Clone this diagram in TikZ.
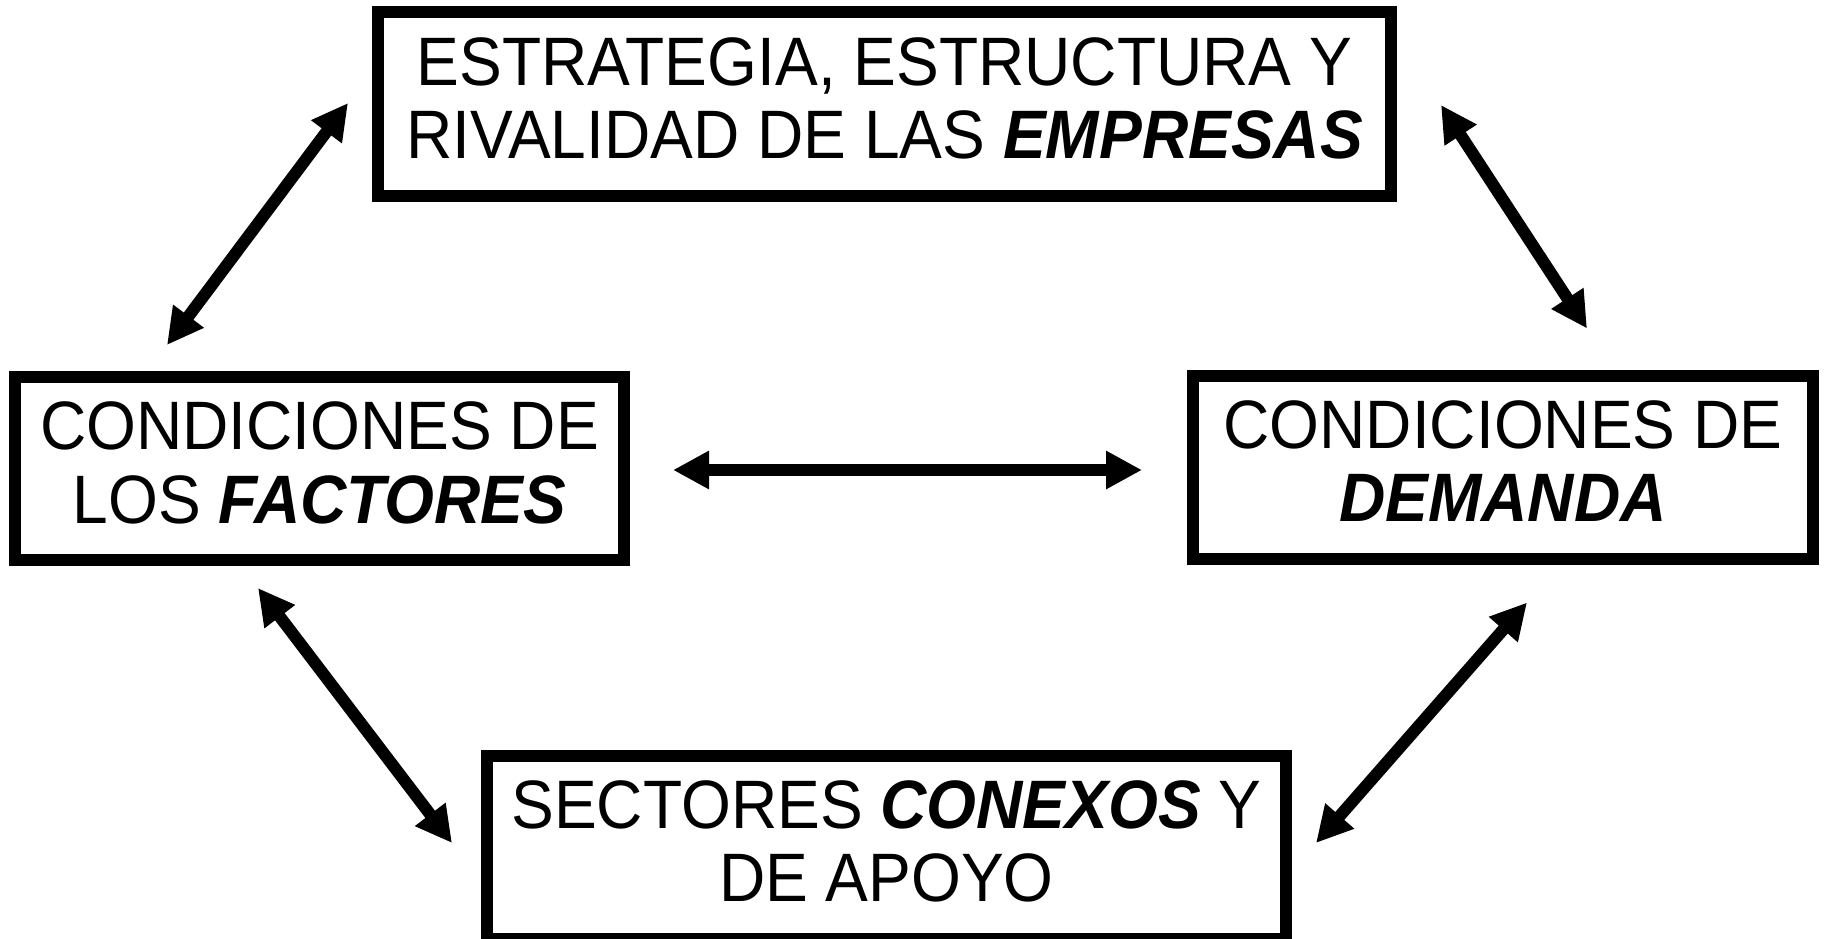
\documentclass[tikz,border=0pt]{standalone}
\usepackage{fontspec}
\setmainfont[FakeStretch=0.935]{Liberation Sans}
\usetikzlibrary{arrows.meta}
\tikzset{
    factorbox/.style={rectangle, draw, line width=1.2mm, align=center,
      minimum width=#1, minimum height=1.83cm, inner sep=0pt, text depth=0.12cm,
      font=\fontsize{19.5}{21}\selectfont},
    link/.style={{Triangle[length=3.6mm,width=3.6mm]}-{Triangle[length=3.6mm,width=3.6mm]},
      line width=1.2mm},
}

\begin{document}
\begin{tikzpicture}
 \clip (0,0) rectangle (18.25,-9.38);
 \node[factorbox=10.13cm] (emp) at (8.845,-1.04)
    {ESTRATEGIA, ESTRUCTURA Y\\RIVALIDAD DE LAS \textbf{\textit{EMPRESAS}}};
 \node[factorbox=6.09cm] (fac) at (3.195,-4.685)
    {CONDICIONES DE\\LOS \textbf{\textit{FACTORES}}};
 \node[factorbox=6.20cm] (dem) at (15.03,-4.67)
    {CONDICIONES DE\\\textbf{\textit{DEMANDA}}};
 \node[factorbox=7.99cm] (sec) at (8.865,-8.47)
    {SECTORES \textbf{\textit{CONEXOS}} Y\\DE APOYO};
 % flechas entre los cuatro factores
 \draw[link] ([shift={(-1.525,0.26)}]fac.north) -- ([shift={(-0.24,0.01)}]emp.west);
 \draw[link] ([shift={(0.44,-0.01)}]emp.east) -- ([shift={(0.84,0.41)}]dem.north);
 \draw[link] ([shift={(0.43,-0.015)}]fac.east) -- ([shift={(-0.45,-0.03)}]dem.west);
 \draw[link] ([shift={(-0.615,-0.22)}]fac.south) -- ([shift={(-0.29,0.04)}]sec.west);
 \draw[link] ([shift={(0.24,-0.38)}]dem.south) -- ([shift={(0.24,0.04)}]sec.east);
\end{tikzpicture}
\end{document}
